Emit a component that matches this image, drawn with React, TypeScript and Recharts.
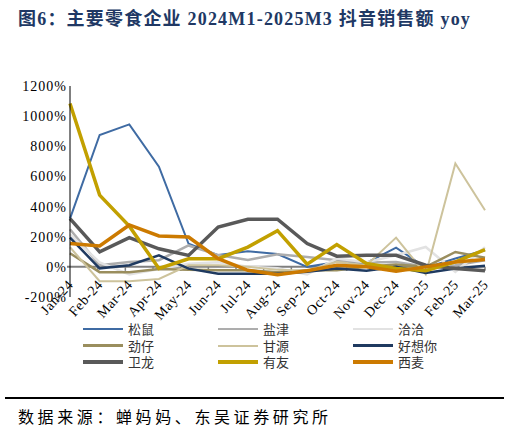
import React from 'react';
import { LineChart, Line, XAxis, YAxis, ReferenceLine } from 'recharts';

const months = ['Jan-24', 'Feb-24', 'Mar-24', 'Apr-24', 'May-24', 'Jun-24', 'Jul-24', 'Aug-24', 'Sep-24', 'Oct-24', 'Nov-24', 'Dec-24', 'Jan-25', 'Feb-25', 'Mar-25'];
const yTicks = [-200, 0, 200, 400, 600, 800, 1000, 1200];

const songshu = [320, 875, 945, 665, 153, 78, 103, 85, 0, 33, 26, 128, -5, 55, 110];
const yanjin = [250, 10, 33, 44, 142, 78, 45, 83, 66, 44, 29, 33, 0, 11, 44];
const qiaqia = [215, 30, -50, -15, 20, 30, 0, -10, -50, 55, 30, 77, 132, -33, 130];
const jinzai = [90, -35, -35, -15, -19, -23, -22, -35, -22, -22, 0, 15, 0, 99, 60];
const ganyuan = [130, -95, -95, -80, 10, 10, 0, -20, -25, 33, 11, 194, -49, 686, 376];
const haoxiangni = [194, -10, 11, 77, -12, -45, -45, -45, -33, -11, -26, 0, -40, -11, 7];
const weilong = [320, 99, 194, 120, 76, 264, 316, 316, 155, 71, 77, 77, 11, -11, -26];
const youyou = [1084, 476, 270, -11, 54, 54, 131, 240, 18, 148, 22, -11, -26, 33, 115];
const ximai = [155, 139, 278, 205, 198, 54, -23, -52, -26, 11, 0, -29, 0, 33, 49];

const seriesDefs = [
  { key: '松鼠', values: songshu, color: '#3F6BA3', width: 2 },
  { key: '盐津', values: yanjin, color: '#ADADAD', width: 2.5 },
  { key: '洽洽', values: qiaqia, color: '#E2E2E2', width: 2.5 },
  { key: '劲仔', values: jinzai, color: '#9A8E5E', width: 2.5 },
  { key: '甘源', values: ganyuan, color: '#CDC39C', width: 2 },
  { key: '好想你', values: haoxiangni, color: '#1F3A60', width: 2.5 },
  { key: '卫龙', values: weilong, color: '#595959', width: 3.5 },
  { key: '有友', values: youyou, color: '#C2A000', width: 3.5 },
  { key: '西麦', values: ximai, color: '#CC7A00', width: 3.5 },
];

const data = months.map((m, i) => {
  const row: Record<string, any> = { month: m };
  seriesDefs.forEach((s) => {
    row[s.key] = s.values[i];
  });
  return row;
});

const serif = '"Liberation Serif", "Times New Roman", serif';
const cjk = '"Noto Sans CJK SC", "Noto Sans", sans-serif';

const XTick = (props: any) => {
  const { x, y, payload } = props;
  const ax = x + 4;
  const ay = y - 12;
  return (
    <text
      x={ax}
      y={ay}
      transform={`rotate(-48 ${ax} ${ay})`}
      textAnchor="end"
      fontFamily={serif}
      fontSize={14}
      letterSpacing={0.6}
      fill="#000"
    >
      {payload.value}
    </text>
  );
};

const ZeroLine = (props: any) => {
  const { x1, y1, x2 } = props;
  const n = months.length;
  const step = (x2 - x1) / n;
  const ticks = [];
  for (let i = 1; i <= n; i++) {
    const tx = x1 + step * i;
    ticks.push(<line key={i} x1={tx} x2={tx} y1={y1} y2={y1 + 4} stroke="#7F7F7F" strokeWidth={1.5} />);
  }
  return (
    <g>
      <line x1={x1 - 3} x2={x2} y1={y1} y2={y1} stroke="#7F7F7F" strokeWidth={2} />
      {ticks}
    </g>
  );
};

export default function App() {
  return (
    <div style={{ position: 'absolute', left: 0, top: 0, width: 509, height: 431, background: '#fff', overflow: 'hidden' }}>
      <div
        style={{
          position: 'absolute',
          left: 18,
          top: 4,
          fontFamily: `${serif.split(',')[0]}, ${cjk}`,
          fontWeight: 'bold',
          fontSize: 18,
          letterSpacing: 1.2,
          color: '#203864',
          whiteSpace: 'nowrap',
        }}
      >
        图6：主要零食企业 2024M1-2025M3 抖音销售额 yoy
      </div>
      <div style={{ position: 'absolute', left: 0, top: 0 }}>
        <LineChart width={509} height={322} data={data} margin={{ top: 86, right: 24, bottom: 0, left: 8 }}>
          <XAxis
            dataKey="month"
            height={25}
            axisLine={false}
            tickLine={false}
            tickSize={0}
            tickMargin={0}
            interval={0}
            tick={<XTick />}
          />
          <YAxis
            width={62}
            domain={[-200, 1200]}
            ticks={yTicks}
            interval={0}
            tickFormatter={(v: number) => `${v}%`}
            axisLine={{ stroke: '#000', strokeWidth: 1 }}
            tickLine={false}
            tickSize={0}
            tickMargin={3}
            tick={{ fontFamily: serif, fontSize: 14, fill: '#000', letterSpacing: 1 }}
          />
          <ReferenceLine y={0} shape={<ZeroLine />} />
          {seriesDefs.map((s) => (
            <Line
              key={s.key}
              type="linear"
              dataKey={s.key}
              stroke={s.color}
              strokeWidth={s.width}
              dot={false}
              activeDot={false}
              isAnimationActive={false}
            />
          ))}
        </LineChart>
      </div>
      {seriesDefs.map((s, i) => {
        const col = i % 3;
        const row = Math.floor(i / 3);
        return (
          <div
            key={s.key}
            style={{
              position: 'absolute',
              left: 83 + col * 135,
              top: 321 + row * 16.5,
              height: 16,
              display: 'flex',
              alignItems: 'center',
              whiteSpace: 'nowrap',
            }}
          >
            <div style={{ width: 40, height: s.width, background: s.color, marginRight: 5 }} />
            <span style={{ fontFamily: cjk, fontSize: 13, color: '#333', lineHeight: '16px' }}>{s.key}</span>
          </div>
        );
      })}
      <div style={{ position: 'absolute', left: 5, top: 397, width: 499, height: 2, background: '#000' }} />
      <div
        style={{
          position: 'absolute',
          left: 18,
          top: 406,
          fontFamily: cjk,
          fontSize: 16,
          letterSpacing: 3.6,
          color: '#000',
          whiteSpace: 'nowrap',
          lineHeight: '20px',
        }}
      >
        数据来源：蝉妈妈、东吴证券研究所
      </div>
    </div>
  );
}
